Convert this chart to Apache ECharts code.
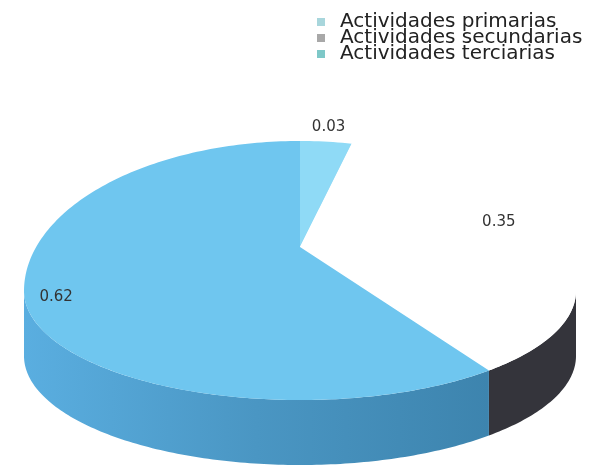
<!DOCTYPE html>
<html><head><meta charset="utf-8">
<script src="https://cdn.jsdelivr.net/npm/echarts@6/dist/echarts.min.js"></script>
<style>html,body{margin:0;padding:0;background:#fff}#c{width:602px;height:468px}</style>
</head><body><div id="c"></div>
<script>
// ---- data ----
const categories = ['Actividades primarias', 'Actividades secundarias', 'Actividades terciarias'];
const values = [0.03, 0.35, 0.62];
const labels = ['0.03', '0.35', '0.62'];

// ---- style ----
const topColors = ['#8fdaf6', '#ffffff', '#6fc6ef'];
const sideColors = [
  '#5aa9d3',
  '#34343b',
  new echarts.graphic.LinearGradient(0, 0, 1, 0, [{offset: 0, color: '#5aaee0'}, {offset: 0.5, color: '#4a96c3'}, {offset: 1, color: '#3d84ae'}])
];
const legendColors = ['#a8d6dc', '#a8a8a8', '#7ec8c8'];
const labelRadius = [1.1, 0.75, 0.95];
const labelLift = [0, -38, -32];
const THICK = 65;
const APEX_LIFT = 44;
const FRONT_SQUASH = 0.727;

const total = values.reduce((a, b) => a + b, 0);
const starts = [];
let acc = 0;
values.forEach(v => { starts.push(acc / total * 360); acc += v; });

function renderItem(params, api) {
  const i = params.seriesIndex;
  const a0 = starts[i];
  const a1 = a0 + api.value(0) / total * 360;
  const P = (deg, k) => {
    const r = deg * Math.PI / 180;
    const cy = Math.cos(r);
    return api.coord([k * Math.sin(r), k * cy * (cy < 0 ? FRONT_SQUASH : 1)]);
  };
  const arc = (from, to, k) => {
    const pts = [];
    const n = Math.max(2, Math.ceil(Math.abs(to - from)));
    for (let j = 0; j <= n; j++) pts.push(P(from + (to - from) * j / n, k));
    return pts;
  };
  const c = api.coord([0, 0]);
  const apex = [c[0], c[1] - APEX_LIFT];
  const children = [];
  const lo = Math.max(a0, 90), hi = Math.min(a1, 270);
  if (lo < hi) {
    const topArc = arc(lo, hi, 1);
    const bottom = topArc.map(p => [p[0], p[1] + THICK]).reverse();
    children.push({type: 'polygon', shape: {points: topArc.concat(bottom)},
      style: {fill: sideColors[i], stroke: null}});
  }
  children.push({type: 'polygon', shape: {points: [apex].concat(arc(a0, a1, 1))},
    style: {fill: topColors[i], stroke: null}});
  const mid = (a0 + a1) / 2;
  const lp = P(mid, labelRadius[i]);
  children.push({type: 'text', x: lp[0], y: lp[1] + labelLift[i], z2: 10,
    style: {text: labels[i], fill: '#333', fontSize: 15, fontFamily: 'DejaVu Sans',
      align: 'center', verticalAlign: 'middle'}});
  return {type: 'group', children};
}

const chart = echarts.init(document.getElementById('c'), null, {renderer: 'canvas'});
chart.setOption({
  animation: false,
  backgroundColor: '#ffffff',
  grid: {left: 24, right: 26, top: 141, bottom: 27},
  xAxis: {type: 'value', min: -1, max: 1, show: false},
  yAxis: {type: 'value', min: -1, max: 1, show: false},
  legend: {
    orient: 'vertical', left: 317, top: 12, itemWidth: 8, itemHeight: 8, itemGap: -4, padding: 0,
    icon: 'rect',
    textStyle: {fontFamily: 'DejaVu Sans', fontSize: 20, lineHeight: 16, color: '#222', padding: [0, 0, 0, 10]},
    data: categories.map((n, i) => ({name: n, itemStyle: {color: legendColors[i]}}))
  },
  series: categories.map((n, i) => ({
    type: 'custom', name: n, coordinateSystem: 'cartesian2d', silent: true,
    renderItem: renderItem,
    encode: {x: 0, y: 1},
    data: [[values[i], 0]]
  }))
});
</script>
</body></html>
